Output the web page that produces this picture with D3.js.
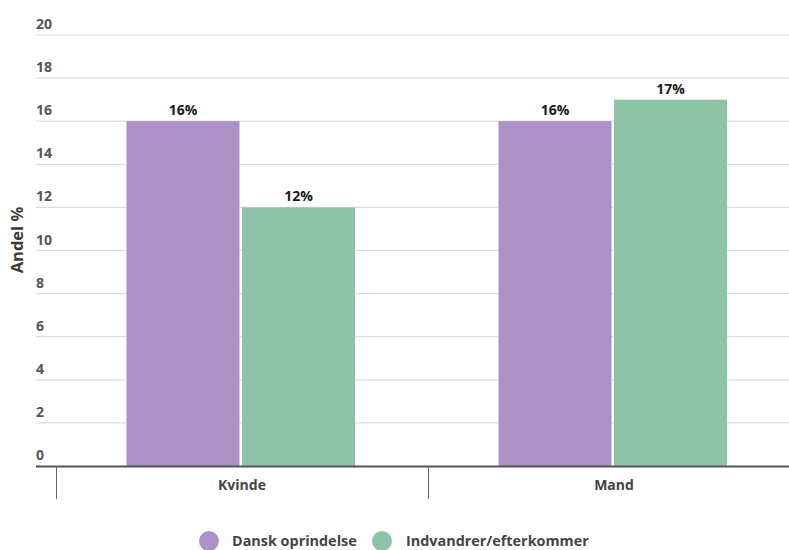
<!DOCTYPE html>
<html>
<head>
<meta charset="utf-8">
<script src="https://cdn.jsdelivr.net/npm/d3@7"></script>
<style>
  html, body { margin: 0; padding: 0; background: #fff; }
  svg { display: block; font-family: "Open Sans", "Noto Sans", sans-serif; }
</style>
</head>
<body>
<svg id="chart" width="789" height="550"></svg>
<script>
const categories = ["Kvinde", "Mand"];
const seriesNames = ["Dansk oprindelse", "Indvandrer/efterkommer"];
const danskValues = [16, 16];
const indvandrerValues = [12, 17];
const yTicks = [0, 2, 4, 6, 8, 10, 12, 14, 16, 18, 20];
const colors = ["#ab91c6", "#8dc3a7"];

const seriesValues = [danskValues, indvandrerValues];
const data = categories.map((c, i) => ({
  category: c,
  values: seriesNames.map((s, j) => ({ series: s, idx: j, value: seriesValues[j][i] }))
}));

const svg = d3.select("#chart");
const W = 789, H = 550;
const gridLeft = 36;
const plotTop = 35, plotBottom = 466;

const x0 = d3.scaleBand().domain(categories).range([56, 800]).paddingInner(0).paddingOuter(0);
const y = d3.scaleLinear().domain([0, 20]).range([plotBottom, plotTop]);
const x1 = d3.scaleBand().domain(seriesNames)
  .range([70.5, 299]).paddingInner(0.0216);

// gridlines
svg.append("g").selectAll("line").data(yTicks.filter(t => t > 0)).join("line")
  .attr("x1", gridLeft).attr("x2", W)
  .attr("y1", d => y(d)).attr("y2", d => y(d))
  .attr("stroke", "#dedede").attr("stroke-width", 1.2);

// y tick labels
svg.append("g").selectAll("text").data(yTicks).join("text")
  .attr("x", gridLeft).attr("y", d => y(d) - 6)
  .attr("font-size", 14).attr("font-weight", 700).attr("fill", "#555")
  .text(d => d);

// y axis title
svg.append("text")
  .attr("transform", "translate(23,240) rotate(-90)")
  .attr("text-anchor", "middle")
  .attr("font-size", 16.5).attr("font-weight", 700).attr("fill", "#3a3a3a")
  .text("Andel %");

// bars
const groups = svg.append("g").selectAll("g").data(data).join("g")
  .attr("transform", d => `translate(${x0(d.category)},0)`);

groups.selectAll("rect").data(d => d.values).join("rect")
  .attr("x", d => x1(d.series))
  .attr("y", d => y(d.value))
  .attr("width", x1.bandwidth())
  .attr("height", d => y(0) - y(d.value))
  .attr("fill", d => colors[d.idx]);

groups.selectAll("text").data(d => d.values).join("text")
  .attr("x", d => x1(d.series) + x1.bandwidth() / 2)
  .attr("y", d => y(d.value) - 6)
  .attr("text-anchor", "middle")
  .attr("font-size", 14).attr("font-weight", 700).attr("fill", "#1a1a1a")
  .text(d => d.value + "%");

// x axis
const xAxis = d3.axisBottom(x0).tickSize(0).tickPadding(0);
const xg = svg.append("g").attr("transform", `translate(0,${plotBottom})`).call(xAxis);
xg.select(".domain").remove();
xg.selectAll("text")
  .attr("dy", 0).attr("y", 24)
  .attr("font-family", "'Open Sans', sans-serif")
  .attr("font-size", 14).attr("font-weight", 700).attr("fill", "#444");

svg.append("line")
  .attr("x1", gridLeft).attr("x2", W)
  .attr("y1", plotBottom + 0.5).attr("y2", plotBottom + 0.5)
  .attr("stroke", "#555").attr("stroke-width", 2);

// category separators
const seps = categories.map(c => x0(c));
svg.append("g").selectAll("line").data(seps).join("line")
  .attr("x1", d => d + 0.5).attr("x2", d => d + 0.5)
  .attr("y1", plotBottom).attr("y2", plotBottom + 33)
  .attr("stroke", "#666").attr("stroke-width", 1);

// legend
const legendItems = [
  { name: seriesNames[0], cx: 209, tx: 232 },
  { name: seriesNames[1], cx: 382, tx: 406 }
];
const lg = svg.append("g").selectAll("g").data(legendItems).join("g");
lg.append("circle")
  .attr("cx", d => d.cx).attr("cy", 541).attr("r", 10)
  .attr("fill", (d, i) => colors[i]);
lg.append("text")
  .attr("x", d => d.tx).attr("y", 546)
  .attr("font-size", 14.4).attr("font-weight", 700).attr("fill", "#444")
  .text(d => d.name);
</script>
</body>
</html>
